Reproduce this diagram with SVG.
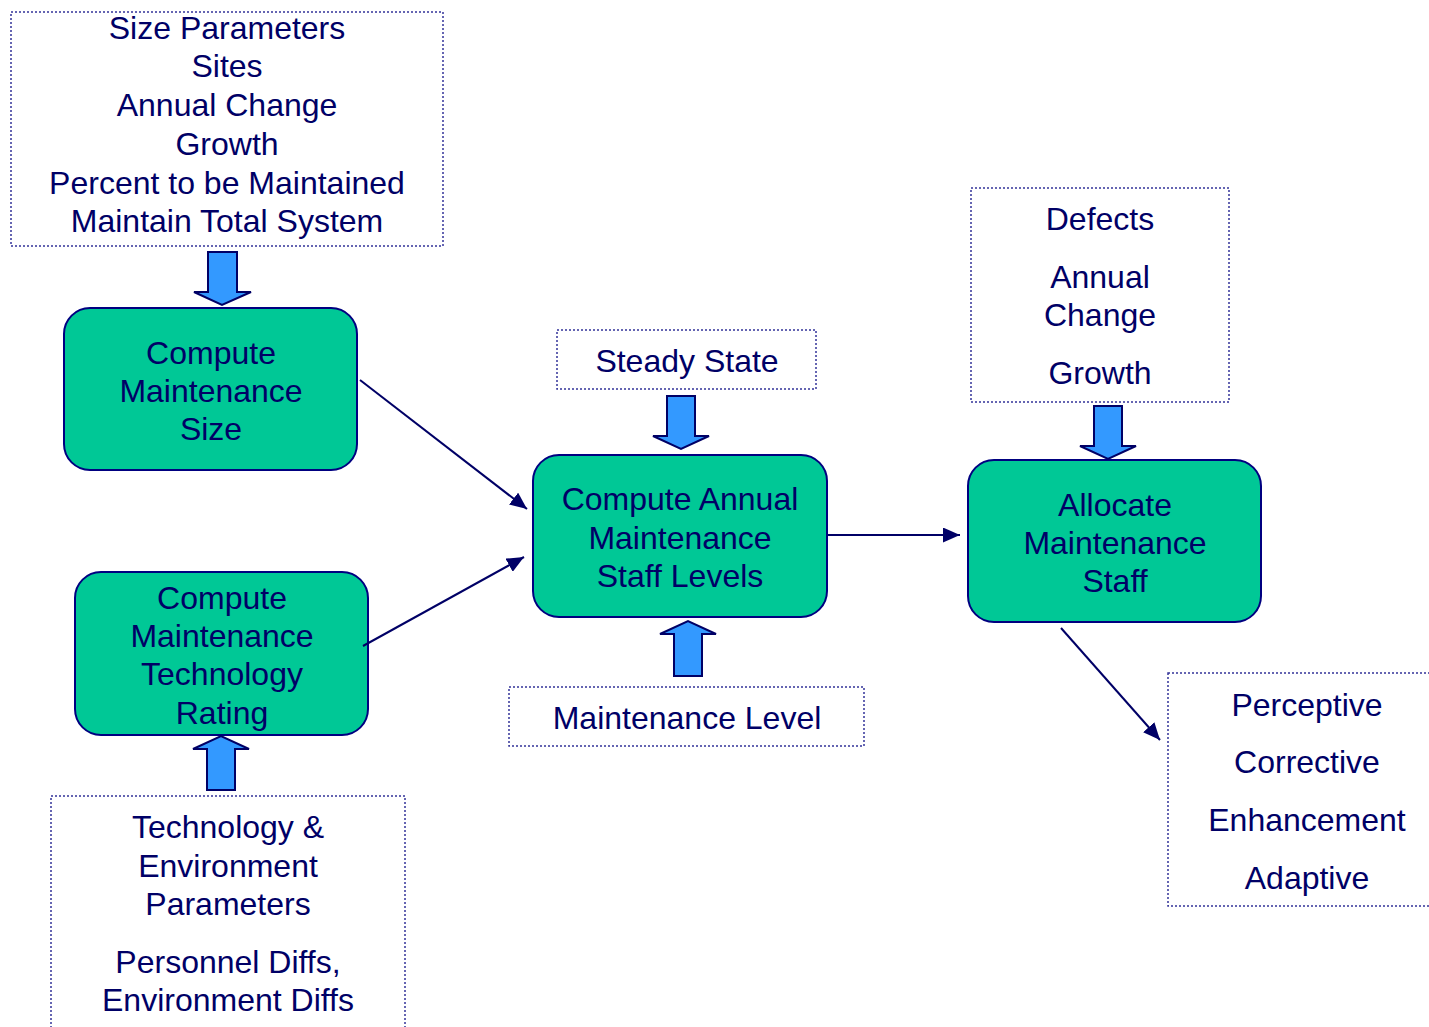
<svg xmlns="http://www.w3.org/2000/svg" width="1429" height="1027" viewBox="0 0 1429 1027">
<defs>
<style>
.t{font-family:"Liberation Sans",Arial,sans-serif;font-size:32px;fill:#000066;text-anchor:middle}
.box{fill:#fff;stroke:#333399;stroke-width:1.5;stroke-dasharray:2 2}
.node{fill:#00C896;stroke:#000080;stroke-width:2}
.blk{fill:#3399FF;stroke:#000066;stroke-width:2;stroke-linejoin:miter}
.ln{stroke:#000066;stroke-width:2;fill:none}
</style>
<marker id="ah2" viewBox="0 0 10 10" refX="10" refY="5" markerWidth="17" markerHeight="15" markerUnits="userSpaceOnUse" orient="auto" preserveAspectRatio="none">
<path d="M0,0 L10,5 L0,10 z" fill="#000066"/>
</marker>
</defs>

<g id="size-params">
<rect class="box" x="11" y="12" width="432" height="234"/>
<text class="t" x="227" y="39">Size Parameters</text>
<text class="t" x="227" y="77">Sites</text>
<text class="t" x="227" y="116">Annual Change</text>
<text class="t" x="227" y="155">Growth</text>
<text class="t" x="227" y="194">Percent to be Maintained</text>
<text class="t" x="227" y="232">Maintain Total System</text>
</g>

<g id="compute-size">
<rect class="node" x="64" y="308" width="293" height="162" rx="26"/>
<text class="t" x="211" y="364">Compute</text>
<text class="t" x="211" y="402">Maintenance</text>
<text class="t" x="211" y="440">Size</text>
</g>

<g id="compute-tech">
<rect class="node" x="75" y="572" width="293" height="163" rx="26"/>
<text class="t" x="222" y="609">Compute</text>
<text class="t" x="222" y="647">Maintenance</text>
<text class="t" x="222" y="685">Technology</text>
<text class="t" x="222" y="724">Rating</text>
</g>

<g id="tech-params">
<rect class="box" x="51" y="796" width="354" height="260"/>
<text class="t" x="228" y="838">Technology &amp;</text>
<text class="t" x="228" y="877">Environment</text>
<text class="t" x="228" y="915">Parameters</text>
<text class="t" x="228" y="973">Personnel Diffs,</text>
<text class="t" x="228" y="1011">Environment Diffs</text>
</g>

<g id="steady-state">
<rect class="box" x="557" y="330" width="259" height="59"/>
<text class="t" x="687" y="372">Steady State</text>
</g>

<g id="compute-annual">
<rect class="node" x="533" y="455" width="294" height="162" rx="26"/>
<text class="t" x="680" y="510">Compute Annual</text>
<text class="t" x="680" y="549">Maintenance</text>
<text class="t" x="680" y="587">Staff Levels</text>
</g>

<g id="maintenance-level">
<rect class="box" x="509" y="687" width="355" height="59"/>
<text class="t" x="687" y="729">Maintenance Level</text>
</g>

<g id="defects">
<rect class="box" x="971" y="188" width="258" height="214"/>
<text class="t" x="1100" y="230">Defects</text>
<text class="t" x="1100" y="288">Annual</text>
<text class="t" x="1100" y="326">Change</text>
<text class="t" x="1100" y="384">Growth</text>
</g>

<g id="allocate">
<rect class="node" x="968" y="460" width="293" height="162" rx="26"/>
<text class="t" x="1115" y="516">Allocate</text>
<text class="t" x="1115" y="554">Maintenance</text>
<text class="t" x="1115" y="592">Staff</text>
</g>

<g id="maint-types">
<rect class="box" x="1168" y="673" width="290" height="233"/>
<text class="t" x="1307" y="716">Perceptive</text>
<text class="t" x="1307" y="773">Corrective</text>
<text class="t" x="1307" y="831">Enhancement</text>
<text class="t" x="1307" y="889">Adaptive</text>
</g>

<g id="connectors">
<path class="blk" d="M208,252 H237 V292 H251 L222,305 L194,292 H208 Z"/>
<path class="blk" d="M667,396 H695 V436 H709 L681,449 L653,436 H667 Z"/>
<path class="blk" d="M1094,406 H1122 V446 H1136 L1108,459 L1080,446 H1094 Z"/>
<path class="blk" d="M674,676 H702 V634 H716 L688,621 L660,634 H674 Z"/>
<path class="blk" d="M207,790 H235 V749 H249 L221,736 L193,749 H207 Z"/>
<line class="ln" x1="360" y1="380" x2="527" y2="509" marker-end="url(#ah2)"/>
<line class="ln" x1="363" y1="646" x2="524" y2="557" marker-end="url(#ah2)"/>
<line class="ln" x1="828" y1="535" x2="960" y2="535" marker-end="url(#ah2)"/>
<line class="ln" x1="1061" y1="628" x2="1160" y2="740" marker-end="url(#ah2)"/>
</g>
</svg>
